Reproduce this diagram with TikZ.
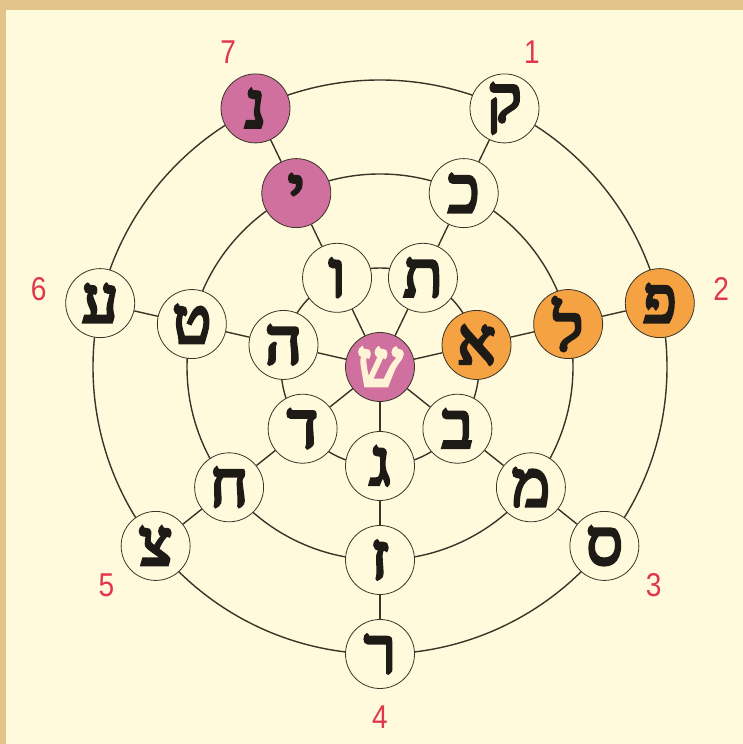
\documentclass[tikz,border=0pt]{standalone}
\usepackage{fontspec}
\setmainfont{Liberation Sans}
\newfontfamily\heb[Script=Hebrew,FakeBold=5]{Liberation Serif}
\TeXXeTstate=1
\definecolor{bgc}{HTML}{FFFADC}
\definecolor{tanc}{HTML}{E2C48A}
\definecolor{pinkc}{HTML}{D0709F}
\definecolor{orangec}{HTML}{F5A243}
\definecolor{linec}{HTML}{3A3428}
\definecolor{numc}{HTML}{E0384A}
\definecolor{shinc}{HTML}{FFF3D6}
\definecolor{letc}{HTML}{1E1A16}
\begin{document}
\begin{tikzpicture}[x=1pt,y=1pt,
  letter/.style={circle, draw=linec, line width=0.8pt, fill=bgc, minimum size=69pt, inner sep=0pt,
    text=letc, font=\heb\fontsize{64}{64}\selectfont},
  pinkn/.style={letter, fill=pinkc},
  orangen/.style={letter, fill=orangec},
  num/.style={text=numc, xscale=0.85, font=\fontsize{33}{33}\selectfont},
  link/.style={draw=linec, line width=1.4pt}]
\fill[tanc] (0,0) rectangle (743,744);
\fill[bgc] (6,0) rectangle (743,734);
\useasboundingbox (0,0) rectangle (743,744);
\coordinate (C) at (380,377);
\foreach \r in {99,193,287} \draw[link] (C) circle (\r);
% centre
\node[pinkn, text=shinc] (c) at (C) {\beginR ש\endR};
% inner ring
\node[letter]  (i1) at ([shift={(64.29:99)}]C)   {\beginR ת\endR};
\node[orangen] (i2) at ([shift={(12.86:99)}]C)   {\beginR א\endR};
\node[letter]  (i3) at ([shift={(-38.57:99)}]C)  {\beginR ב\endR};
\node[letter]  (i4) at ([shift={(-90:99)}]C)     {\beginR ג\endR};
\node[letter]  (i5) at ([shift={(-141.43:99)}]C) {\beginR ד\endR};
\node[letter]  (i6) at ([shift={(167.14:99)}]C)  {\beginR ה\endR};
\node[letter]  (i7) at ([shift={(115.71:99)}]C)  {\beginR ו\endR};
% middle ring
\node[letter]  (m1) at ([shift={(64.29:193)}]C)   {\beginR כ\endR};
\node[orangen] (m2) at ([shift={(12.86:193)}]C)   {\beginR ל\endR};
\node[letter]  (m3) at ([shift={(-38.57:193)}]C)  {\beginR מ\endR};
\node[letter]  (m4) at ([shift={(-90:193)}]C)     {\beginR ז\endR};
\node[letter]  (m5) at ([shift={(-141.43:193)}]C) {\beginR ח\endR};
\node[letter]  (m6) at ([shift={(167.14:193)}]C)  {\beginR ט\endR};
\node[pinkn]   (m7) at ([shift={(115.71:193)}]C)  {\beginR י\endR};
% outer ring
\node[letter]  (o1) at ([shift={(64.29:287)}]C)   {\beginR ק\endR};
\node[orangen] (o2) at ([shift={(12.86:287)}]C)   {\beginR פ\endR};
\node[letter]  (o3) at ([shift={(-38.57:287)}]C)  {\beginR ס\endR};
\node[letter]  (o4) at ([shift={(-90:287)}]C)     {\beginR ר\endR};
\node[letter]  (o5) at ([shift={(-141.43:287)}]C) {\beginR צ\endR};
\node[letter]  (o6) at ([shift={(167.14:287)}]C)  {\beginR ע\endR};
\node[pinkn]   (o7) at ([shift={(115.71:287)}]C)  {\beginR נ\endR};
% spokes
\foreach \k in {1,...,7} {
  \draw[link] (c) -- (i\k);
  \draw[link] (i\k) -- (m\k);
  \draw[link] (m\k) -- (o\k);
}
% numbers
\node[num] (n1) at ([shift={(64.29:350)}]C)   {1};
\node[num] (n2) at ([shift={(12.86:350)}]C)   {2};
\node[num] (n3) at ([shift={(-38.57:350)}]C)  {3};
\node[num] (n4) at ([shift={(-90:350)}]C)     {4};
\node[num] (n5) at ([shift={(-141.43:350)}]C) {5};
\node[num] (n6) at ([shift={(167.14:350)}]C)  {6};
\node[num] (n7) at ([shift={(115.71:350)}]C)  {7};
\end{tikzpicture}
\end{document}
